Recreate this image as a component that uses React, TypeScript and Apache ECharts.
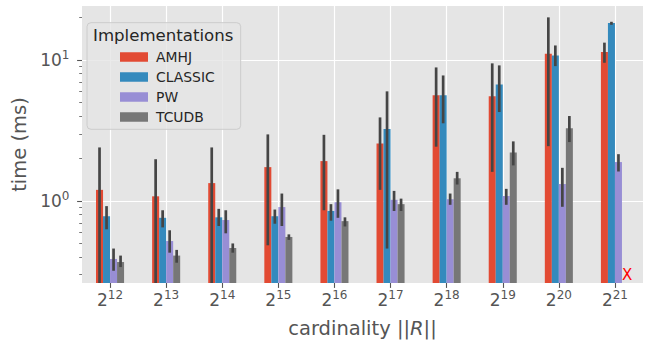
import React, { useEffect, useRef } from 'react';
import * as echarts from 'echarts';

// ---- data ----
const exponents = [12, 13, 14, 15, 16, 17, 18, 19, 20, 21];
const implementations = ['AMHJ', 'CLASSIC', 'PW', 'TCUDB'];

const amhj = [1.2, 1.08, 1.34, 1.74, 1.92, 2.56, 5.62, 5.53, 11.1, 11.4];
const amhjLo = [0.2, 0.2, 0.2, 0.485, 0.86, 1.2, 2.43, 1.61, 2.45, 9.57];
const amhjHi = [2.4, 1.98, 2.4, 2.97, 2.95, 3.92, 8.87, 9.48, 20.1, 13.3];

const classic = [0.78, 0.76, 0.766, 0.78, 0.85, 3.24, 5.62, 6.72, 10.8, 18.3];
const classicLo = [0.63, 0.65, 0.665, 0.69, 0.725, 0.46, 3.56, 4.28, 9.06, 17.8];
const classicHi = [0.92, 0.86, 0.88, 0.87, 0.95, 6.0, 7.78, 9.17, 12.7, 18.7];

const pw = [0.388, 0.52, 0.733, 0.906, 0.98, 1.02, 1.03, 1.085, 1.32, 1.89];
const pwLo = [0.32, 0.43, 0.59, 0.665, 0.76, 0.85, 0.94, 0.94, 0.91, 1.62];
const pwHi = [0.46, 0.62, 0.86, 1.13, 1.21, 1.18, 1.13, 1.22, 1.72, 2.15];

const tcudb = [0.369, 0.41, 0.464, 0.556, 0.72, 0.95, 1.45, 2.21, 3.29, null];
const tcudbLo = [0.34, 0.365, 0.43, 0.53, 0.66, 0.85, 1.31, 1.79, 2.62, null];
const tcudbHi = [0.41, 0.45, 0.5, 0.58, 0.766, 1.04, 1.61, 2.65, 4.01, null];

// missing measurement marker ("X")
const missingIndex = [9];
const missingSeries = [3];
const missingValue = [0.3];

const yMajorTicks = [1, 10];
const yMinorTicks = [0.3, 0.4, 0.5, 0.6, 0.7, 0.8, 0.9, 2, 3, 4, 5, 6, 7, 8, 9, 20];
const Y_MIN = 0.262;
const Y_MAX = 24.2;

const FONT = 'DejaVu Sans';
const COLORS = ['#E24A33', '#348ABD', '#988ED5', '#777777'];
const BAR_FRAC = 0.125;

const supRich = {
  b: { fontSize: 17, lineHeight: 22, fontFamily: FONT, color: '#555555' },
  s: { fontSize: 12, lineHeight: 12, fontFamily: FONT, color: '#555555', verticalAlign: 'top' },
};

export default function App() {
  const ref = useRef<HTMLDivElement>(null);

  useEffect(() => {
    const chart = echarts.init(ref.current!, null, { renderer: 'svg' });
    const means = [amhj, classic, pw, tcudb];
    const los = [amhjLo, classicLo, pwLo, tcudbLo];
    const his = [amhjHi, classicHi, pwHi, tcudbHi];

    const barSeries = implementations.map((n, k) => ({
      type: 'bar',
      name: n,
      data: means[k],
      barWidth: '12.5%',
      barGap: '0%',
      itemStyle: { color: COLORS[k] },
      z: 2,
      xAxisIndex: 0,
      yAxisIndex: 0,
      silent: true,
    }));

    const errSeries = implementations.map((n, k) => ({
      type: 'custom',
      name: n + ' error',
      z: 3,
      silent: true,
      xAxisIndex: 0,
      yAxisIndex: 0,
      data: exponents
        .map((_, i) => [i, los[k][i], his[k][i]])
        .filter((d) => d[1] != null && d[2] != null),
      renderItem: (params: any, api: any) => {
        const i = api.value(0);
        const p1 = api.coord([i, api.value(1)]);
        const p2 = api.coord([i, api.value(2)]);
        const bw = api.coord([1, api.value(2)])[0] - api.coord([0, api.value(2)])[0];
        const x = p1[0] + bw * BAR_FRAC * (k - 1.5);
        const cs = params.coordSys;
        const cl = (y: number) => (isFinite(y) ? Math.min(Math.max(y, cs.y), cs.y + cs.height) : cs.y + cs.height);
        return {
          type: 'line',
          shape: { x1: x, y1: cl(p1[1]), x2: x, y2: cl(p2[1]) },
          style: { stroke: '#454545', lineWidth: 2.7 },
        };
      },
    }));

    const missingMarks = {
      type: 'custom',
      name: 'missing',
      z: 4,
      silent: true,
      xAxisIndex: 0,
      yAxisIndex: 0,
      data: missingIndex.map((idx, j) => [idx, missingValue[j], missingSeries[j]]),
      renderItem: (params: any, api: any) => {
        const i = api.value(0);
        const k = api.value(2);
        const p = api.coord([i, api.value(1)]);
        const bw = api.coord([1, api.value(1)])[0] - api.coord([0, api.value(1)])[0];
        const x = p[0] + bw * BAR_FRAC * (k - 2);
        return {
          type: 'text',
          x,
          y: p[1],
          style: {
            text: 'X',
            fill: '#ff0000',
            fontSize: 15,
            fontFamily: FONT,
            align: 'left',
            verticalAlign: 'middle',
          },
        };
      },
    };

    const option: any = {
      animation: false,
      backgroundColor: '#ffffff',
      grid: {
        left: 82,
        right: 8,
        top: 6,
        bottom: 63,
        show: true,
        backgroundColor: '#E5E5E5',
        borderWidth: 0,
        containLabel: false,
        outerBoundsMode: 'none',
      },
      legend: {
        data: implementations,
        orient: 'vertical',
        left: 115,
        top: 45,
        itemWidth: 28,
        itemHeight: 9.5,
        itemGap: 6,
        icon: 'rect',
        selectedMode: false,
        z: 10,
        textStyle: {
          fontSize: 13.9,
          fontFamily: FONT,
          color: '#262626',
          lineHeight: 14,
          padding: [0, 0, 0, 3],
        },
      },
      graphic: [
        {
          type: 'rect',
          z: 8,
          shape: { x: 87, y: 22.7, width: 153.7, height: 106.6, r: 4 },
          style: { fill: 'rgba(229,229,229,0.8)', stroke: '#cccccc', lineWidth: 1 },
        },
        {
          type: 'text',
          z: 9,
          x: 93,
          y: 35.3,
          style: {
            text: 'Implementations',
            fontSize: 16.6,
            fontFamily: FONT,
            fill: '#262626',
            align: 'left',
            verticalAlign: 'middle',
          },
        },
      ],
      xAxis: [
        {
          type: 'category',
          data: exponents.map(String),
          axisLine: { show: false },
          axisTick: { show: true, alignWithLabel: true, length: 4.9, lineStyle: { color: '#555555', width: 1.1 } },
          axisLabel: {
            margin: 6,
            interval: 0,
            formatter: (v: string) => `{b|2}{s|${v}}`,
            rich: supRich,
          },
          splitLine: { show: true, alignWithLabel: true, interval: 0, lineStyle: { color: '#ffffff', width: 1.2 } },
          name: 'cardinality ||{it|R}||',
          nameLocation: 'middle',
          nameGap: 35,
          nameTextStyle: {
            fontSize: 19.5,
            fontFamily: FONT,
            color: '#555555',
            verticalAlign: 'top',
            rich: {
              it: { fontSize: 19.5, fontFamily: FONT, fontStyle: 'italic', color: '#555555' },
            },
          },
        },
      ],
      yAxis: [
        {
          type: 'log',
          logBase: 10,
          min: Y_MIN,
          max: Y_MAX,
          startValue: Y_MIN,
          name: 'time (ms)',
          nameLocation: 'middle',
          nameGap: 46,
          nameTextStyle: { fontSize: 19.5, fontFamily: FONT, color: '#555555' },
          axisLine: { show: false },
          axisTick: { show: true, length: 4.9, customValues: yMajorTicks, lineStyle: { color: '#555555', width: 1.1 } },
          axisLabel: {
            margin: 12.5,
            customValues: yMajorTicks,
            formatter: (v: number) => `{b|10}{s|${Math.round(Math.log10(v))}}`,
            rich: supRich,
          },
          splitLine: { show: true, lineStyle: { color: '#ffffff', width: 1.2 } },
        },
        {
          type: 'log',
          logBase: 10,
          min: Y_MIN,
          max: Y_MAX,
          position: 'left',
          axisLine: { show: false },
          axisTick: { show: true, length: 2.8, customValues: yMinorTicks, lineStyle: { color: '#555555', width: 0.8 } },
          axisLabel: { show: false },
          splitLine: { show: false },
        },
      ],
      series: [...barSeries, ...errSeries, missingMarks],
    };

    chart.setOption(option);
    return () => chart.dispose();
  }, []);

  return <div ref={ref} style={{ position: 'fixed', left: 0, top: 0, width: 651, height: 346 }} />;
}
